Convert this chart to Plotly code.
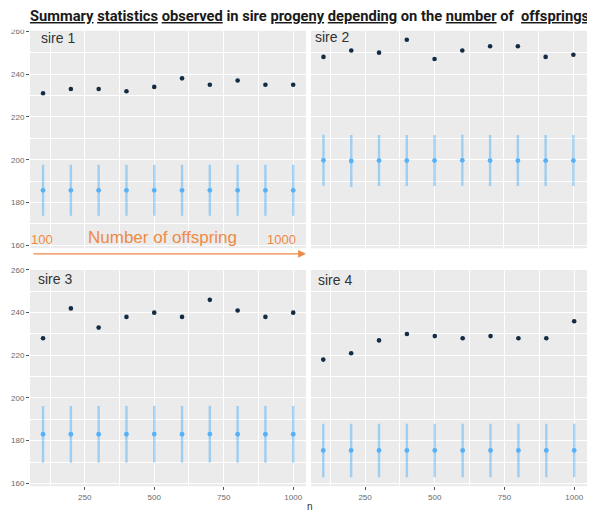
import plotly.graph_objects as go

# ---------------- data ----------------
n = [100, 200, 300, 400, 500, 600, 700, 800, 900, 1000]

sire1_obs = [231, 233, 233, 232, 234, 238, 235, 237, 235, 235]
sire1_mean = [185.7, 185.7, 185.7, 185.7, 185.7, 185.7, 185.7, 185.7, 185.7, 185.7]
sire1_sd = [11.9, 11.9, 11.9, 11.9, 11.9, 11.9, 11.9, 11.9, 11.9, 11.9]

sire2_obs = [248, 251, 250, 256, 247, 251, 253, 253, 248, 249]
sire2_mean = [199.7, 199.4, 199.6, 199.6, 199.6, 199.7, 199.6, 199.6, 199.6, 199.6]
sire2_sd = [11.9, 12.1, 11.9, 11.9, 11.9, 11.9, 11.9, 11.9, 11.9, 11.9]

sire3_obs = [228, 242, 233, 238, 240, 238, 246, 241, 238, 240]
sire3_mean = [183.0, 183.0, 183.0, 183.0, 183.1, 183.0, 183.1, 183.0, 183.0, 183.0]
sire3_sd = [13.3, 13.3, 13.3, 13.3, 13.3, 13.3, 13.3, 13.3, 13.3, 13.3]

sire4_obs = [218, 221, 227, 230, 229, 228, 229, 228, 228, 236]
sire4_mean = [175.4, 175.4, 175.4, 175.4, 175.4, 175.4, 175.4, 175.4, 175.4, 175.4]
sire4_sd = [12.5, 12.5, 12.5, 12.5, 12.5, 12.5, 12.5, 12.5, 12.5, 12.5]

sire_labels = ["sire 1", "sire 2", "sire 3", "sire 4"]
y_ticks = [160, 180, 200, 220, 240, 260]
y_minor = [170, 190, 210, 230, 250]
x_ticks = [250, 500, 750, 1000]
x_minor = [125, 375, 625, 875]

title_html = ("<u>Summary</u> <u>statistics</u> <u>observed</u> in sire <u>progeny</u> "
              "<u>depending</u> on the <u>number</u> of  <u>offsprings</u>")

# ---------------- helpers ----------------
# the page adds an 8px body margin, so the figure is drawn 8px smaller
OFF = 8
W, H = 595 - OFF, 515 - OFF
def px(x):
    return (x - OFF) / W
def py(y):
    return 1 - (y - OFF) / H

DOT = "#132B43"
LIGHT = "#56B1F7"
BAR = "rgba(86,177,247,0.5)"
ORANGE = "#EE8A45"

fig = go.Figure()

panels = [
    (sire1_obs, sire1_mean, sire1_sd, "x", "y"),
    (sire2_obs, sire2_mean, sire2_sd, "x2", "y2"),
    (sire3_obs, sire3_mean, sire3_sd, "x3", "y3"),
    (sire4_obs, sire4_mean, sire4_sd, "x4", "y4"),
]
for obs, mean, sd, xa, ya in panels:
    fig.add_trace(go.Scatter(
        x=n, y=mean, mode="markers", xaxis=xa, yaxis=ya,
        marker=dict(color=LIGHT, size=4.8),
        error_y=dict(type="data", array=sd, visible=True, color=BAR,
                     thickness=2.4, width=0),
        showlegend=False))
    fig.add_trace(go.Scatter(
        x=n, y=obs, mode="markers", xaxis=xa, yaxis=ya,
        marker=dict(color=DOT, size=4.6), showlegend=False))

# panel boxes in pixels: (left, right, top, bottom)
boxes = [(30, 306, 27, 247), (311, 587, 27, 247),
         (30, 306, 268, 488), (311, 587, 268, 488)]
xranges = [[53, 1046], [55, 1049], [53, 1046], [56, 1046]]
yranges = [[158.7, 260.2], [158.7, 260.2], [158.6, 260.5], [158.6, 260.5]]

tickfont = dict(family="Liberation Sans", size=8, color="#6a6a6a")
layout_axes = {}
for i, ((l, r, t, b), xr, yr) in enumerate(zip(boxes, xranges, yranges)):
    sx = "" if i == 0 else str(i + 1)
    show_y = i in (0, 2)
    show_x = i in (2, 3)
    layout_axes["xaxis" + sx] = dict(
        domain=[px(l), px(r)], range=xr, anchor="y" + sx,
        tickvals=x_ticks, showticklabels=show_x, ticks="outside" if show_x else "",
        ticklen=3, tickcolor="#555", tickwidth=0.8, tickfont=tickfont,
        showgrid=True, gridcolor="white", gridwidth=1.1, zeroline=False,
        showline=False,
        minor=dict(tickvals=x_minor, showgrid=True, gridcolor="white",
                   gridwidth=0.5, ticks=""))
    layout_axes["yaxis" + sx] = dict(
        domain=[py(b), py(t)], range=yr, anchor="x" + sx,
        tickvals=y_ticks, showticklabels=show_y, ticks="outside" if show_y else "",
        ticklen=3, tickcolor="#555", tickwidth=0.8, tickfont=tickfont,
        showgrid=True, gridcolor="white", gridwidth=1.1, zeroline=False,
        showline=False,
        minor=dict(tickvals=y_minor, showgrid=True, gridcolor="white",
                   gridwidth=0.5, ticks=""))

fig.update_layout(**layout_axes)

# per-panel background
shapes = []
for (l, r, t, b) in boxes:
    shapes.append(dict(type="rect", xref="paper", yref="paper",
                       x0=px(l), x1=px(r), y0=py(b), y1=py(t),
                       fillcolor="#EBEBEB", line=dict(width=0), layer="below"))
# crop mask at the very top (reference image is cropped there)
shapes.append(dict(type="rect", xref="paper", yref="paper",
                   x0=0, x1=px(30), y0=py(26), y1=1,
                   fillcolor="white", line=dict(width=0), layer="above"))

annotations = [
    dict(text="<b>" + title_html + "</b>", x=px(309), y=py(12), xref="paper", yref="paper",
         showarrow=False, xanchor="center", yanchor="middle",
         font=dict(family="Roboto", size=14.7, color="#1a1a1a")),
    dict(text="n", x=px(310), y=py(508), xref="paper", yref="paper", showarrow=False,
         xanchor="center", yanchor="middle",
         font=dict(family="Liberation Sans", size=10, color="#333")),
    dict(text="100", x=px(29), y=py(238), xref="paper", yref="paper", showarrow=False,
         xanchor="left", yanchor="middle",
         font=dict(family="Liberation Sans", size=13, color=ORANGE)),
    dict(text="Number of offspring", x=px(162), y=py(236), xref="paper", yref="paper",
         showarrow=False, xanchor="center", yanchor="middle",
         font=dict(family="Liberation Sans", size=17, color=ORANGE)),
    dict(text="1000", x=px(298), y=py(238), xref="paper", yref="paper", showarrow=False,
         xanchor="right", yanchor="middle",
         font=dict(family="Liberation Sans", size=13, color=ORANGE)),
    dict(text="", x=px(306), y=py(252.7), xref="paper", yref="paper",
         showarrow=True, ax=-274, ay=0, arrowhead=2, arrowsize=1.2,
         arrowwidth=1.3, arrowcolor=ORANGE),
]
label_pos = [(39, 34), (313, 33), (36, 278), (316, 279)]
for lab, (lx, ly) in zip(sire_labels, label_pos):
    annotations.append(dict(text=lab, x=px(lx), y=py(ly), xref="paper", yref="paper",
                            showarrow=False, xanchor="left", yanchor="middle",
                            font=dict(family="Liberation Sans", size=14, color="#333")))

fig.update_layout(
    width=W, height=H, margin=dict(l=0, r=0, t=0, b=0),
    paper_bgcolor="white", plot_bgcolor="rgba(0,0,0,0)",
    shapes=shapes, annotations=annotations, showlegend=False,
)

fig.write_html("out.html")
